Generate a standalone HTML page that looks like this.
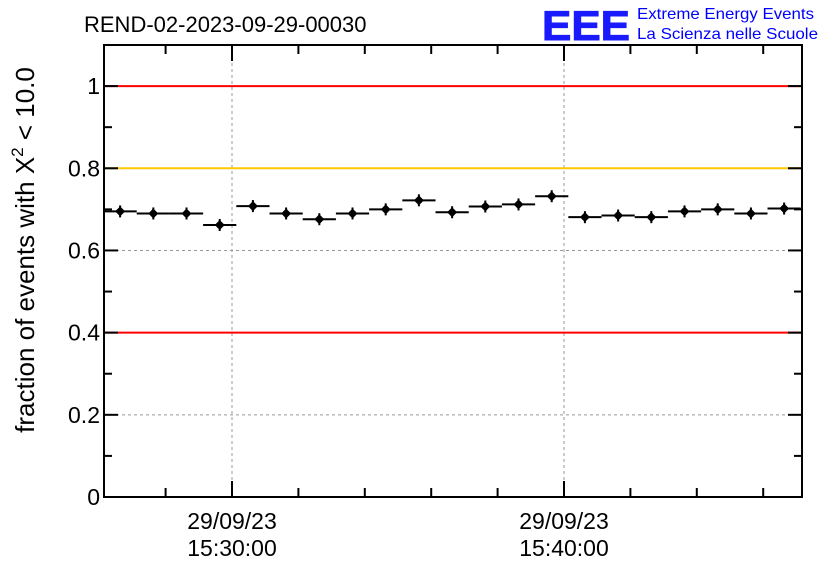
<!DOCTYPE html>
<html><head><meta charset="utf-8"><style>
body{margin:0;background:#fff;}
svg text{font-family:"Liberation Sans",sans-serif;}
</style></head><body>
<svg id="chart" width="836" height="572" viewBox="0 0 836 572" xmlns="http://www.w3.org/2000/svg">
<rect width="836" height="572" fill="#fff"/>
<text x="84" y="32" font-size="22">REND-02-2023-09-29-00030</text>
<text x="542" y="40" font-size="42" font-weight="bold" fill="#1a1aff" stroke="#1a1aff" stroke-width="1" textLength="88" lengthAdjust="spacingAndGlyphs">EEE</text>
<text x="637" y="19" font-size="16" fill="#0000ff" textLength="177" lengthAdjust="spacingAndGlyphs">Extreme Energy Events</text>
<text x="637" y="39" font-size="16" fill="#0000ff" textLength="181" lengthAdjust="spacingAndGlyphs">La Scienza nelle Scuole</text>
<text transform="translate(34,250) rotate(-90)" text-anchor="middle" font-size="26">fraction of events with Χ<tspan font-size="17" dy="-11">2</tspan><tspan dy="11"> &lt; 10.0</tspan></text>
<g id="grid"></g><g id="refs"></g><g id="marks"></g><g id="axes"></g>
</svg>
<script>
const values=[0.695,0.690,0.690,0.662,0.708,0.690,0.676,0.690,0.700,0.722,0.693,0.707,0.712,0.732,0.681,0.685,0.681,0.695,0.700,0.690,0.702];
const startMin=-3.37; // minutes relative to 15:30 of first bin center
const refLines=[{v:1,c:"#ff0000"},{v:0.8,c:"#ffc800"},{v:0.4,c:"#ff0000"}];
const yTicks=[0,0.2,0.4,0.6,0.8,1];
const yTickLabels=["0","0.2","0.4","0.6","0.8","1"];
const xMajor=[0,10];
const xLabels=[["29/09/23","15:30:00"],["29/09/23","15:40:00"]];
const L=104,R=802,T=45,B=497,ymax=1.1;
const ys=v=>B-(v/ymax)*(B-T);
const xs=m=>232+m*33.2;
const NS="http://www.w3.org/2000/svg";
function mk(p,tag,a){const e=document.createElementNS(NS,tag);for(const k in a)e.setAttribute(k,a[k]);document.getElementById(p).appendChild(e);return e;}
for(const v of [0.2,0.6]){const e=mk('grid','line',{x1:L,x2:R,y1:ys(v),y2:ys(v),stroke:'#999','stroke-dasharray':'3,3'});

}
for(const m of xMajor){const e=mk('grid','line',{x1:xs(m),x2:xs(m),y1:T,y2:B,stroke:'#999','stroke-dasharray':'3,3'});

}
for(const r of refLines){const e=mk('refs','line',{x1:L,x2:R,y1:ys(r.v),y2:ys(r.v),stroke:r.c,'stroke-width':2});

}
values.forEach((v,i)=>{const cx=xs(startMin+i),cy=ys(v);
const g=mk('marks','g',{});


const a=document.createElementNS(NS,'line');a.setAttribute('x1',cx-16.6);a.setAttribute('x2',cx+16.6);a.setAttribute('y1',cy);a.setAttribute('y2',cy);a.setAttribute('stroke','#000');a.setAttribute('stroke-width',2);g.appendChild(a);
const b=document.createElementNS(NS,'line');b.setAttribute('x1',cx);b.setAttribute('x2',cx);b.setAttribute('y1',cy-6);b.setAttribute('y2',cy+6);b.setAttribute('stroke','#000');b.setAttribute('stroke-width',2);g.appendChild(b);
const d=document.createElementNS(NS,'path');d.setAttribute('d',`M${cx-5} ${cy}L${cx} ${cy-5}L${cx+5} ${cy}L${cx} ${cy+5}Z`);d.setAttribute('fill','#000');g.appendChild(d);});
const fr=mk('axes','rect',{x:L,y:T,width:R-L,height:B-T,fill:'none',stroke:'#000','stroke-width':2});


for(let k=0;k<=11;k++){const v=k*0.1,len=(k%2==0)?14:8;
mk('axes','line',{x1:L,x2:L+len,y1:ys(v),y2:ys(v),stroke:'#000','stroke-width':2});
mk('axes','line',{x1:R,x2:R-len,y1:ys(v),y2:ys(v),stroke:'#000','stroke-width':2});}
yTicks.forEach((v,i)=>{const t=mk('axes','text',{x:L-4,y:ys(v)+8,'text-anchor':'end','font-size':23});t.textContent=yTickLabels[i];

});
for(let m=-2;m<=16;m+=2){const len=(m%10==0)?16:9;
mk('axes','line',{x1:xs(m),x2:xs(m),y1:B,y2:B-len,stroke:'#000','stroke-width':2});
mk('axes','line',{x1:xs(m),x2:xs(m),y1:T,y2:T+len,stroke:'#000','stroke-width':2});}
xMajor.forEach((m,i)=>{for(let j=0;j<2;j++){const t=mk('axes','text',{x:xs(m),y:529+j*27,'text-anchor':'middle','font-size':23});t.textContent=xLabels[i][j];

}});
</script>
</body></html>
